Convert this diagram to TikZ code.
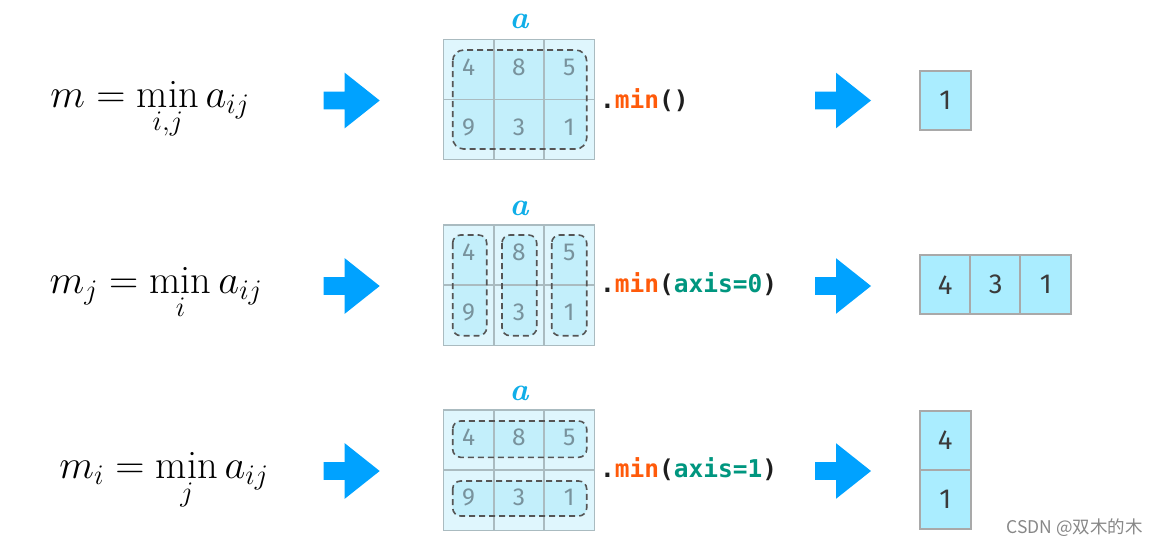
\RequirePackage{fix-cm}
\documentclass[tikz,border=0pt]{standalone}
\usepackage{fontspec}
\newfontfamily\digitfont{Fira Sans}
\newfontfamily\codefont{DejaVu Sans Mono}
\newfontfamily\cjkfont{Noto Sans CJK SC}
\definecolor{gridbg}{RGB}{223,246,253}
\definecolor{regionbg}{RGB}{195,239,251}
\definecolor{gridline}{RGB}{170,187,192}
\definecolor{dashcol}{RGB}{85,85,85}
\definecolor{griddigit}{RGB}{120,146,156}
\definecolor{resfill}{RGB}{170,237,255}
\definecolor{resborder}{RGB}{169,169,169}
\definecolor{resdigit}{RGB}{58,58,58}
\definecolor{arrowblue}{RGB}{0,162,255}
\definecolor{labelblue}{RGB}{16,174,232}
\definecolor{codeorange}{RGB}{255,90,10}
\definecolor{codeteal}{RGB}{0,150,127}
\definecolor{codeblack}{RGB}{30,30,30}
\definecolor{wmgrey}{RGB}{135,135,135}
\begin{document}
\begin{tikzpicture}[x=1pt,y=-1pt,
  cellbg/.style={fill=gridbg, draw=none, minimum width=50.3pt, minimum height=60pt, inner sep=0pt},
  gridstroke/.style={draw=gridline, line width=1.4pt},
  regionfill/.style={fill=regionbg, rounded corners=#1},
  dashbox/.style={draw=dashcol, line width=1.6pt, dash pattern=on 6pt off 4pt, rounded corners=#1},
  gdigit/.style={font=\digitfont\fontsize{24.5}{28}\selectfont, text=griddigit, inner sep=0pt},
  rescell/.style={fill=resfill, draw=resborder, line width=2pt, minimum width=50.7pt, minimum height=59.5pt, inner sep=0pt, font=\digitfont\fontsize{27.5}{30}\selectfont, text=resdigit},
  alabel/.style={font=\fontsize{32}{36}\selectfont\bfseries\itshape, text=labelblue, inner sep=0pt},
  formula/.style={font=\fontsize{40.5}{48}\selectfont, anchor=base, inner sep=0pt},
  code/.style={font=\codefont\bfseries\fontsize{24.5}{28}\selectfont, text=codeblack, anchor=base west, inner sep=0pt},
  bigarrow/.pic={\fill[arrowblue] (-28,-8.8) -- (-7,-8.8) -- (-7,-27.8) -- (28,0) -- (-7,27.8) -- (-7,8.8) -- (-28,8.8) -- cycle;}
]
\useasboundingbox (0,0) rectangle (1157,547);

% grid cells (background)
\foreach \g/\T in {1/39.5,2/225,3/410}{
  \foreach \r in {1,2}{
    \foreach \c in {1,2,3}{
      \node[cellbg] (g\g-\r\c) at ({443.5+50.3*(\c-0.5)},{\T+60*(\r-0.5)}) {};
    }
  }
}

% highlighted regions (fill)
\path[regionfill=11pt] (452.7,50) rectangle (586.7,149);
\path[regionfill=8pt] (452.7,235) rectangle (486.7,335.7);
\path[regionfill=8pt] (502,235) rectangle (536.7,335.7);
\path[regionfill=8pt] (551.7,235) rectangle (586.7,335.7);
\path[regionfill=8pt] (452.7,421) rectangle (586.7,457.3);
\path[regionfill=8pt] (452.7,481) rectangle (586.7,516);

% grid lines
\foreach \g in {1,2,3}{
  \foreach \r in {1,2}{
    \foreach \c in {1,2,3}{
      \draw[gridstroke] (g\g-\r\c.north west) rectangle (g\g-\r\c.south east);
    }
  }
}

% dashed outlines
\draw[dashbox=11pt] (452.7,50) rectangle (586.7,149);
\draw[dashbox=8pt] (452.7,235) rectangle (486.7,335.7);
\draw[dashbox=8pt] (502,235) rectangle (536.7,335.7);
\draw[dashbox=8pt] (551.7,235) rectangle (586.7,335.7);
\draw[dashbox=8pt] (452.7,421) rectangle (586.7,457.3);
\draw[dashbox=8pt] (452.7,481) rectangle (586.7,516);

% grid digits
\foreach \g/\T in {1/39.5,2/225,3/410}{
  \foreach \r/\c/\v in {1/1/4,1/2/8,1/3/5,2/1/9,2/2/3,2/3/1}{
    \node[gdigit] (d\g-\r\c) at ({443.5+50.3*(\c-0.5)},{\T+60*(\r-0.5)-2.5}) {\v};
  }
}

% labels a
\node[alabel] (a1) at (519,21) {a};
\node[alabel] (a2) at (519,208) {a};
\node[alabel] (a3) at (519,393) {a};

% formulas
\node[formula] (f1) at (150,107) {$\displaystyle m=\min_{\rule{0pt}{21.5pt}i,j}a_{ij}$};
\node[formula] (f2) at (156,293.3) {$\displaystyle m_j=\min_{\rule{0pt}{21.5pt}i}a_{ij}$};
\node[formula] (f3) at (164,478.3) {$\displaystyle m_i=\min_{\rule{0pt}{21.5pt}j}a_{ij}$};

% code
\node[code] (c1) at (600,108) {.\textcolor{codeorange}{min}()};
\node[code] (c2) at (600,292.3) {.\textcolor{codeorange}{min}(\textcolor{codeteal}{axis=0})};
\node[code] (c3) at (600,477.5) {.\textcolor{codeorange}{min}(\textcolor{codeteal}{axis=1})};

% arrows
\pic (al1) at (351.7,100.5) {bigarrow};
\pic (al2) at (351.7,286) {bigarrow};
\pic (al3) at (351.7,471) {bigarrow};
\pic (ar1) at (843,100.5) {bigarrow};
\pic (ar2) at (843,286) {bigarrow};
\pic (ar3) at (843,471) {bigarrow};

% results
\node[rescell] (r1) at (945.3,100.5) {1};
\node[rescell] (r2a) at (945.3,284.7) {4};
\node[rescell] (r2b) at (995.7,284.7) {3};
\node[rescell] (r2c) at (1045.7,284.7) {1};
\node[rescell] (r3a) at (945.3,440.3) {4};
\node[rescell] (r3b) at (945.3,499.7) {1};

% watermark
\node[font=\cjkfont\fontsize{17.5}{20}\selectfont, text=wmgrey, anchor=east, inner sep=0pt] (wm) at (1143,528) {CSDN @双木的木};
\end{tikzpicture}
\end{document}
